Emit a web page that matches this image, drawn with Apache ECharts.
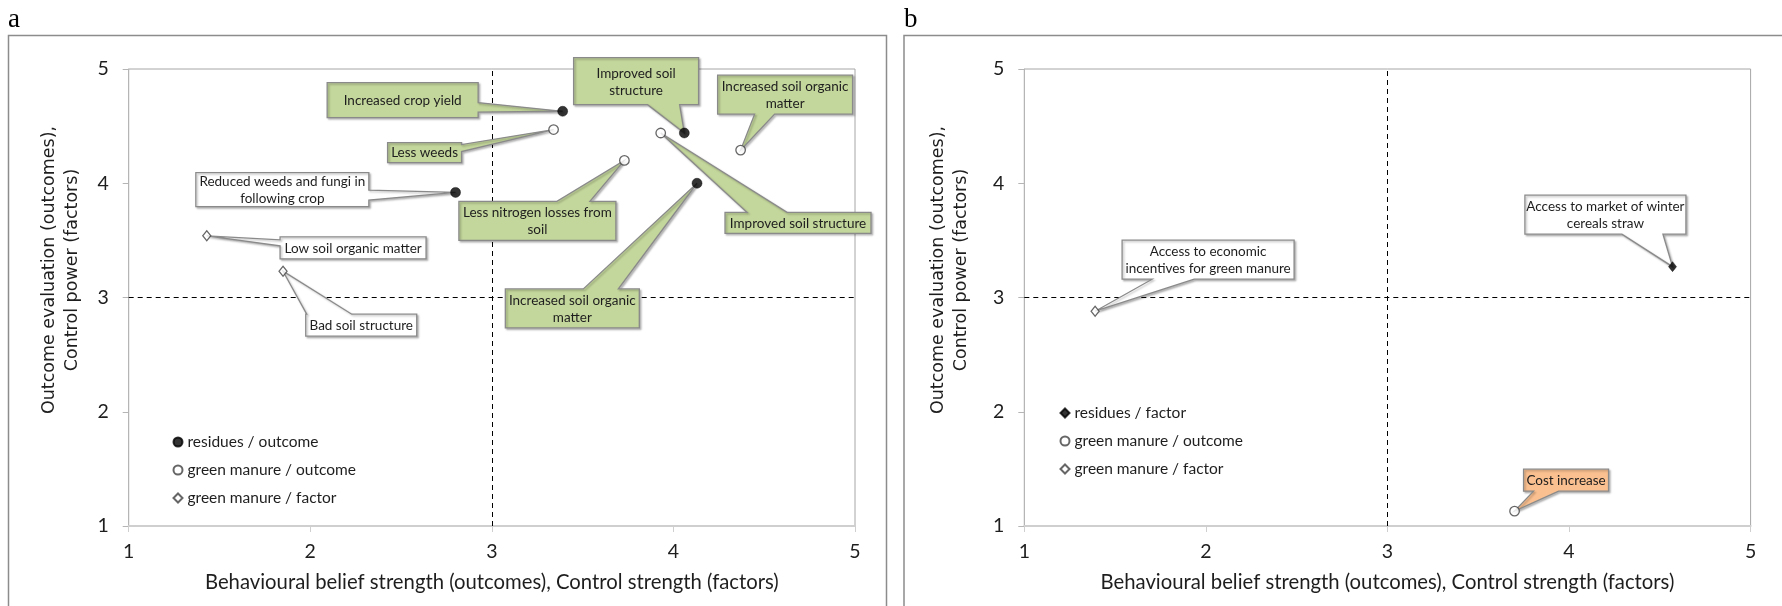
<!DOCTYPE html>
<html>
<head>
<meta charset="utf-8">
<script src="https://cdn.jsdelivr.net/npm/echarts@6/dist/echarts.min.js"></script>
<style>html,body{margin:0;padding:0;background:#fff;}#c{width:1782px;height:606px;}</style>
</head>
<body>
<div id="c"></div>
<script>
// ---------- data ----------
const axisTicks = [1, 2, 3, 4, 5];
const midLine = 3;
const xTitle = 'Behavioural belief strength (outcomes), Control strength (factors)';
const yTitle = 'Outcome evaluation (outcomes),\nControl power (factors)';

// Panel a
const aResiduesOutcomeLabels = ['Increased crop yield', 'Improved soil\nstructure', 'Reduced weeds and fungi in\nfollowing crop', 'Increased soil organic\nmatter'];
const aResiduesOutcomeX = [3.39, 4.06, 2.80, 4.13];
const aResiduesOutcomeY = [4.63, 4.44, 3.92, 4.00];
const aGreenOutcomeLabels = ['Less weeds', 'Less nitrogen losses from\nsoil', 'Improved soil structure', 'Increased soil organic\nmatter'];
const aGreenOutcomeX = [3.34, 3.73, 3.93, 4.37];
const aGreenOutcomeY = [4.47, 4.20, 4.44, 4.29];
const aGreenFactorLabels = ['Low soil organic matter', 'Bad soil structure'];
const aGreenFactorX = [1.43, 1.85];
const aGreenFactorY = [3.54, 3.23];

// Panel b
const bResiduesFactorLabels = ['Access to market of winter\ncereals straw'];
const bResiduesFactorX = [4.57];
const bResiduesFactorY = [3.27];
const bGreenOutcomeLabels = ['Cost increase'];
const bGreenOutcomeX = [3.70];
const bGreenOutcomeY = [1.13];
const bGreenFactorLabels = ['Access to economic\nincentives for green manure'];
const bGreenFactorX = [1.39];
const bGreenFactorY = [2.88];

// ---------- callout layout (annotation placement relative to the point, px) ----------
const GREEN = '#c3d69b', WHITE = '#ffffff', ORANGE = '#fac090';
const aResiduesOutcomeCallouts = [
  {dx: -235.5, dy: -28.7, w: 151, h: 35, side: 'right', a: 20, b: 29.5, fill: GREEN},
  {dx: -110.7, dy: -75.3, w: 125, h: 47, side: 'bottom', a: 74, b: 106, fill: GREEN},
  {dx: -259.7, dy: -19.7, w: 173, h: 34, side: 'right', a: 17.4, b: 27.4, fill: WHITE},
  {dx: -191.7, dy: 105.7, w: 134, h: 39, side: 'top', a: 78, b: 113, fill: GREEN}
];
const aGreenOutcomeCallouts = [
  {dx: -166, dy: 13, w: 74, h: 20, side: 'right', a: 2, b: 9, fill: GREEN},
  {dx: -165.5, dy: 41, w: 157, h: 39, side: 'top', a: 98, b: 131, fill: GREEN},
  {dx: 64.3, dy: 79.3, w: 146, h: 21, side: 'top', a: 22, b: 62, fill: GREEN},
  {dx: -23, dy: -75, w: 135, h: 39, side: 'bottom', a: 37, b: 57, fill: GREEN}
];
const aGreenFactorCallouts = [
  {dx: 73.3, dy: 1, w: 146, h: 22, side: 'left', a: 3, b: 9, fill: WHITE},
  {dx: 22.7, dy: 43, w: 111, h: 22, side: 'top', a: 1, b: 46, fill: WHITE}
];
const bResiduesFactorCallouts = [
  {dx: -147.6, dy: -71.5, w: 161, h: 39, side: 'bottom', a: 97, b: 138, fill: WHITE}
];
const bGreenOutcomeCallouts = [
  {dx: 9, dy: -42, w: 85, h: 22, side: 'bottom', a: 10, b: 35, fill: ORANGE}
];
const bGreenFactorCallouts = [
  {dx: 27, dy: -71, w: 172, h: 39, side: 'bottom', a: 30, b: 72, fill: WHITE}
];

// ---------- helpers ----------
const FONT = 'Lato, "Open Sans", sans-serif';
function pts(xs, ys) { return xs.map((x, i) => [x, ys[i]]); }

function calloutSeries(xs, ys, labels, layouts, axisIdx) {
  return {
    type: 'custom',
    xAxisIndex: axisIdx, yAxisIndex: axisIdx,
    z: 3, clip: false, silent: true,
    data: pts(xs, ys),
    encode: {x: 0, y: 1},
    renderItem: function (params, api) {
      const p = api.coord([api.value(0), api.value(1)]);
      const L = layouts[params.dataIndex];
      const x0 = p[0] + L.dx, y0 = p[1] + L.dy, x1 = x0 + L.w, y1 = y0 + L.h;
      let poly;
      if (L.side === 'top') poly = [[x0, y0], [x0 + L.a, y0], p, [x0 + L.b, y0], [x1, y0], [x1, y1], [x0, y1]];
      else if (L.side === 'right') poly = [[x0, y0], [x1, y0], [x1, y0 + L.a], p, [x1, y0 + L.b], [x1, y1], [x0, y1]];
      else if (L.side === 'bottom') poly = [[x0, y0], [x1, y0], [x1, y1], [x0 + L.b, y1], p, [x0 + L.a, y1], [x0, y1]];
      else poly = [[x0, y0], [x1, y0], [x1, y1], [x0, y1], [x0, y0 + L.b], p, [x0, y0 + L.a]];
      return {
        type: 'group',
        children: [
          {type: 'polygon', shape: {points: poly},
           style: {fill: L.fill, stroke: '#8a8a8a', lineWidth: 1.3,
                   shadowBlur: 2, shadowOffsetX: 1.5, shadowOffsetY: 1.5, shadowColor: 'rgba(0,0,0,0.25)'}},
          {type: 'text',
           style: {text: labels[params.dataIndex], x: (x0 + x1) / 2, y: (y0 + y1) / 2 + 0.5,
                   align: 'center', verticalAlign: 'middle', fontFamily: FONT, fontSize: 13.5,
                   lineHeight: 17, fill: '#1e1e1e'}}
        ]
      };
    }
  };
}

const FILLED_CIRCLE = {symbol: 'circle', symbolSize: 10, itemStyle: {color: '#000', borderColor: '#000', borderWidth: 0.5}};
const OPEN_CIRCLE = {symbol: 'circle', symbolSize: 9.5, itemStyle: {color: '#fff', borderColor: '#404040', borderWidth: 1.3}};
const OPEN_DIAMOND = {symbol: 'diamond', symbolSize: [8, 10], itemStyle: {color: '#fff', borderColor: '#404040', borderWidth: 1.3}};
const FILLED_DIAMOND = {symbol: 'diamond', symbolSize: [8, 10], itemStyle: {color: '#000', borderColor: '#000', borderWidth: 0.5}};

function scatter(name, xs, ys, style, axisIdx) {
  return Object.assign({type: 'scatter', name: name, xAxisIndex: axisIdx, yAxisIndex: axisIdx,
    z: 5, data: pts(xs, ys), emphasis: {disabled: true}}, style);
}

function dashedLines(axisIdx) {
  return {
    type: 'scatter', xAxisIndex: axisIdx, yAxisIndex: axisIdx, data: [], z: 1, silent: true,
    markLine: {
      z: 1, symbol: 'none', silent: true, animation: false, label: {show: false},
      lineStyle: {color: '#000', type: [5, 4], width: 1},
      data: [{xAxis: midLine}, {yAxis: midLine}]
    }
  };
}

function xAxis(gridIdx) {
  return {
    type: 'value', gridIndex: gridIdx, min: axisTicks[0], max: axisTicks[axisTicks.length - 1], interval: 1,
    splitLine: {show: false},
    axisLine: {show: true, onZero: false, lineStyle: {color: '#cfcfcf', width: 2}},
    axisTick: {show: true, inside: false, length: 6, lineStyle: {color: '#cfcfcf', width: 1}},
    axisLabel: {fontFamily: FONT, fontSize: 19.5, color: '#1e1e1e', margin: 16},
    name: xTitle, nameLocation: 'middle', nameGap: 46,
    nameTextStyle: {fontFamily: FONT, fontSize: 20.3, color: '#1e1e1e'}
  };
}
function yAxis(gridIdx) {
  return {
    type: 'value', gridIndex: gridIdx, min: axisTicks[0], max: axisTicks[axisTicks.length - 1], interval: 1,
    splitLine: {show: false},
    axisLine: {show: true, onZero: false, lineStyle: {color: '#b5b5b5', width: 1}},
    axisTick: {show: true, inside: false, length: 6, lineStyle: {color: '#b5b5b5', width: 1}},
    axisLabel: {fontFamily: FONT, fontSize: 19.5, color: '#1e1e1e', margin: 20}
  };
}

const chart = echarts.init(document.getElementById('c'), null, {renderer: 'canvas'});
chart.setOption({
  animation: false,
  backgroundColor: '#fff',
  grid: [
    {left: 128.7, top: 69, width: 726.3, height: 457, show: true, borderColor: '#a6a6a6', borderWidth: 1},
    {left: 1024.3, top: 69, width: 726.3, height: 457, show: true, borderColor: '#a6a6a6', borderWidth: 1}
  ],
  xAxis: [xAxis(0), xAxis(1)],
  yAxis: [yAxis(0), yAxis(1)],
  legend: [
    {orient: 'vertical', left: 167.5, top: 428, itemWidth: 9, itemHeight: 9, itemGap: 10,
     selectedMode: false, textStyle: {fontFamily: FONT, fontSize: 15.5, color: '#1e1e1e', lineHeight: 18},
     data: ['residues / outcome', 'green manure / outcome', 'green manure / factor']},
    {orient: 'vertical', left: 1054.5, top: 399, itemWidth: 9, itemHeight: 9, itemGap: 10,
     selectedMode: false, textStyle: {fontFamily: FONT, fontSize: 15.5, color: '#1e1e1e', lineHeight: 18},
     data: ['residues / factor', 'green manure / outcome', 'green manure / factor']}
  ],
  graphic: [
    {type: 'rect', shape: {x: 8.5, y: 35.5, width: 878, height: 620}, style: {fill: 'none', stroke: '#8c8c8c', lineWidth: 1.5}, silent: true},
    {type: 'rect', shape: {x: 904, y: 35.5, width: 900, height: 620}, style: {fill: 'none', stroke: '#8c8c8c', lineWidth: 1.5}, silent: true},
    {type: 'text', x: 8, y: 33, style: {text: 'a', fontFamily: '"Liberation Serif", serif', fontSize: 27, fill: '#000', verticalAlign: 'bottom'}, silent: true},
    {type: 'text', x: 904, y: 33, style: {text: 'b', fontFamily: '"Liberation Serif", serif', fontSize: 27, fill: '#000', verticalAlign: 'bottom'}, silent: true},
    {type: 'text', x: 60.5, y: 270, rotation: Math.PI / 2,
     style: {text: yTitle, align: 'center', verticalAlign: 'middle', fontFamily: '"DejaVu Sans", sans-serif', fontSize: 17.5, lineHeight: 23, fill: '#1e1e1e'}, silent: true},
    {type: 'text', x: 950, y: 270, rotation: Math.PI / 2,
     style: {text: yTitle, align: 'center', verticalAlign: 'middle', fontFamily: '"DejaVu Sans", sans-serif', fontSize: 17.5, lineHeight: 23, fill: '#1e1e1e'}, silent: true}
  ],
  series: [
    dashedLines(0),
    dashedLines(1),
    calloutSeries(aResiduesOutcomeX, aResiduesOutcomeY, aResiduesOutcomeLabels, aResiduesOutcomeCallouts, 0),
    calloutSeries(aGreenOutcomeX, aGreenOutcomeY, aGreenOutcomeLabels, aGreenOutcomeCallouts, 0),
    calloutSeries(aGreenFactorX, aGreenFactorY, aGreenFactorLabels, aGreenFactorCallouts, 0),
    calloutSeries(bResiduesFactorX, bResiduesFactorY, bResiduesFactorLabels, bResiduesFactorCallouts, 1),
    calloutSeries(bGreenOutcomeX, bGreenOutcomeY, bGreenOutcomeLabels, bGreenOutcomeCallouts, 1),
    calloutSeries(bGreenFactorX, bGreenFactorY, bGreenFactorLabels, bGreenFactorCallouts, 1),
    scatter('residues / outcome', aResiduesOutcomeX, aResiduesOutcomeY, FILLED_CIRCLE, 0),
    scatter('green manure / outcome', aGreenOutcomeX, aGreenOutcomeY, OPEN_CIRCLE, 0),
    scatter('green manure / factor', aGreenFactorX, aGreenFactorY, OPEN_DIAMOND, 0),
    scatter('residues / factor', bResiduesFactorX, bResiduesFactorY, FILLED_DIAMOND, 1),
    scatter('green manure / outcome', bGreenOutcomeX, bGreenOutcomeY, OPEN_CIRCLE, 1),
    scatter('green manure / factor', bGreenFactorX, bGreenFactorY, OPEN_DIAMOND, 1)
  ]
});
</script>
</body>
</html>
